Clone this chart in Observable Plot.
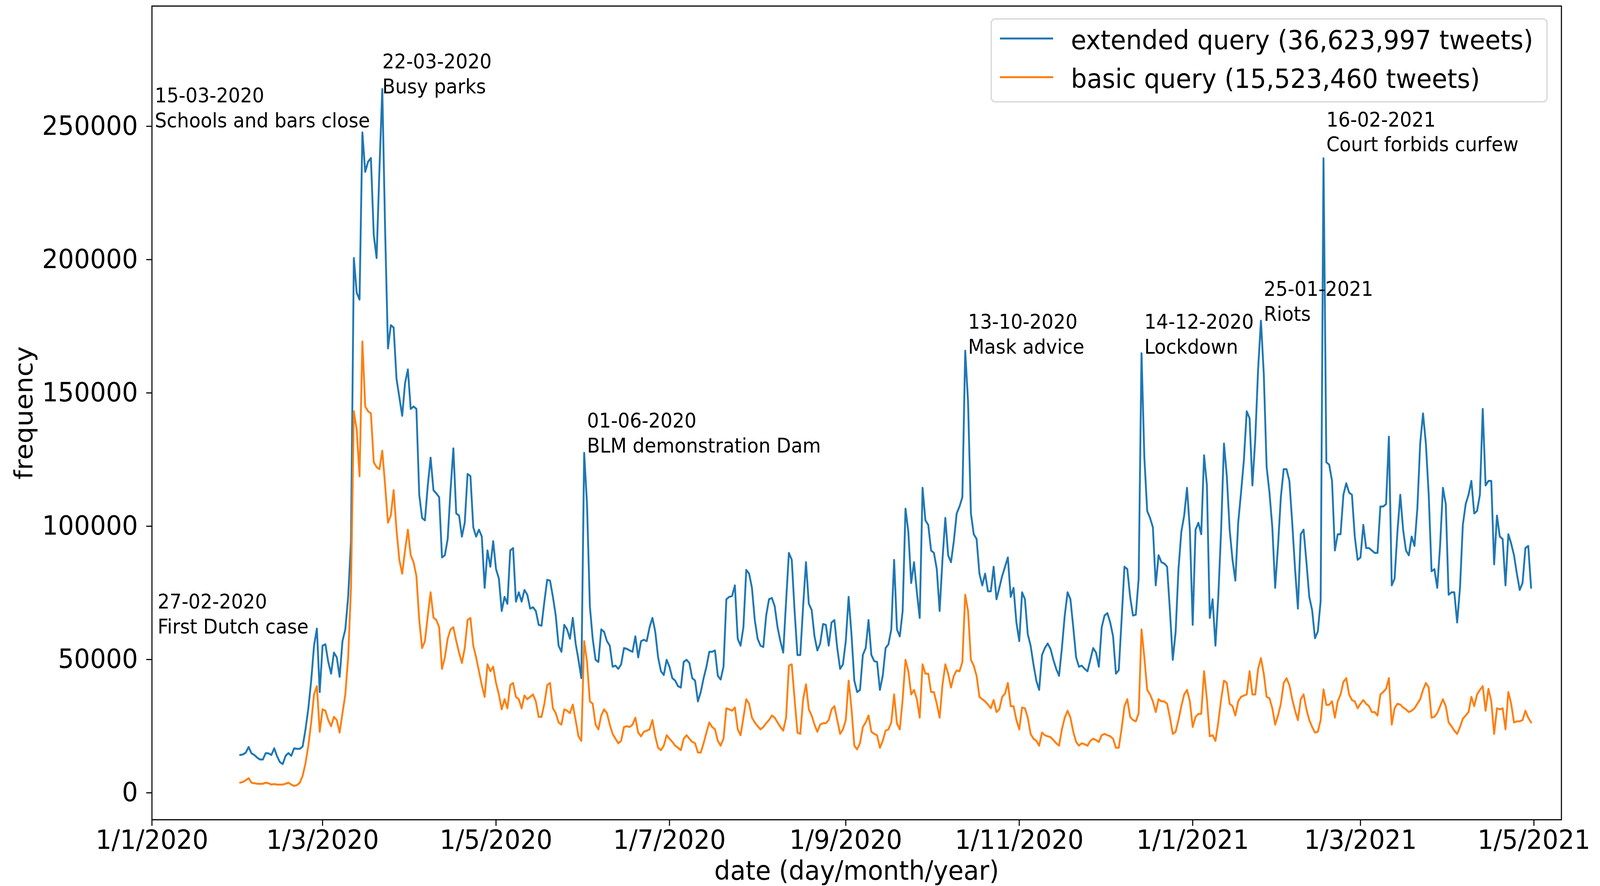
<!DOCTYPE html>
<html>
<head>
<meta charset="utf-8">
<script src="https://cdn.jsdelivr.net/npm/d3@7"></script>
<script src="https://cdn.jsdelivr.net/npm/@observablehq/plot@0.6"></script>
<style>
  html, body { margin: 0; padding: 0; background: white; overflow: hidden; }
  #wrap { position: relative; width: 4333px; height: 2267px; background: white; overflow: hidden; transform-origin: 0 0; }
  #wrap svg { display: block; }
</style>
</head>
<body>
<div id="wrap"></div>
<script>
// ---- data (daily tweet counts, first day 2020-02-01) ----
const startDate = "2020-02-01";

const extended = [
14200,14400,15100,17200,14800,14200,13200,12500,12500,14900,
14800,14200,16700,13700,11500,10800,13900,14900,13900,16700,
16500,16500,17400,23800,31700,42100,55200,61600,37800,55200,
55700,49100,44700,52600,50800,43500,56900,61300,73500,94400,
200600,187600,185000,247700,232900,236700,238100,209300,200600,233700,
264000,211000,166700,175400,174500,155300,148400,141400,153600,158800,
144000,144900,144000,111800,103100,102200,115300,125700,113500,112300,
110900,88300,89100,95200,113500,129200,104800,104000,96100,101300,
119600,118800,99600,96100,98700,96100,76900,90900,84800,94400,
83900,80400,68200,73500,70900,90900,91800,71700,75200,71700,
76100,74300,69100,69600,68200,63000,62700,71700,79900,79600,
73500,66500,55200,52900,63000,61300,57800,65600,56000,49900,
43000,127500,108300,70000,57800,49900,49100,61300,60400,56900,
55200,47300,47700,46500,48200,54300,54000,53400,52900,58700,
50800,56900,57400,56900,62100,65600,60400,50800,45600,44200,
49900,47300,43000,42100,40000,39500,49100,49900,48700,43000,
42100,34300,37800,43000,47300,52900,52900,53400,43900,42500,
47300,72600,73500,73800,77800,57800,55200,62100,83600,82200,
76900,64800,57800,55200,54700,66500,72600,73100,70000,62100,
56900,52600,71700,90000,87400,68200,51700,51700,70000,86500,
70900,68600,58700,53400,56000,63300,63000,55200,63900,64800,
54300,46500,48200,56900,73500,59500,42100,37800,38600,51700,
54300,64800,51700,49400,49100,38600,43900,54300,55700,61300,
87400,61300,58700,68200,106600,97900,78700,86500,75200,65600,
114400,102200,100500,90900,90000,83900,68200,87400,103100,89100,
86500,94400,104800,107400,110900,165800,146600,104800,97000,95200,
82200,77800,82200,75600,75600,84800,72600,76900,81300,84800,
88300,73500,76900,63900,56900,75200,72600,59500,55200,48200,
42100,38600,51700,54300,56000,54000,49900,46500,43900,54300,
66500,75200,72600,62100,50800,47300,47700,46500,45600,49900,
54300,52600,47300,62100,66500,67400,63900,58700,44700,46000,
65000,84800,83900,73500,66500,66800,80400,164900,125700,105700,
103100,99600,77800,89100,86500,86000,84800,68200,49900,60400,
83900,97900,104000,114400,98700,63000,98700,101300,97000,126600,
115300,65600,72600,55200,73500,98700,131000,118800,98700,87400,
79600,101300,112600,124800,143100,140500,115300,132700,158800,177100,
157100,122200,112600,99600,76900,92600,110900,121400,121400,117000,
101300,83900,69100,97000,98700,86500,73500,68500,58000,60500,
72000,238000,124000,123100,117000,90900,97000,97000,111800,116100,
112600,111800,96100,87400,88300,100500,91800,91800,90900,90000,
90000,107400,107400,108300,133600,77800,80400,97900,111800,98700,
90900,89100,96100,92600,106600,131000,142300,131000,111800,83100,
83900,76900,92600,114400,108300,74300,75200,75200,63900,76900,
100500,108300,111800,117000,104800,105700,111800,144000,115300,117000,
117000,85700,104000,96100,95200,77800,97000,93500,89100,82200,
76100,78700,91800,92600,76900
];

const basic = [
3800,4100,4700,5500,3800,3600,3400,3400,3400,3800,
3600,3100,3300,3100,3100,3100,3400,3800,3100,2600,
2900,3800,6400,11100,17700,26400,36900,40000,22900,31300,
30800,27300,25000,28500,27300,22600,29900,36900,50800,76900,
143100,136200,118700,169300,144900,143100,142300,124000,122200,121400,
128300,115300,101300,104000,113500,98700,87400,82200,90900,98700,
89100,86500,81300,64800,54300,56900,66500,75200,65700,64800,
62100,46500,50800,57800,61300,62100,57000,52600,48700,54300,
64800,65600,55200,50800,45600,40400,36000,48200,45600,47300,
41200,36900,31300,35100,31700,40400,41200,36000,35100,31700,
36500,35100,36000,36900,34300,28500,28500,33400,40400,41200,
31700,29900,26400,25600,31300,30800,29900,33100,27300,21200,
19500,56900,49100,34300,33400,25600,23800,29000,31300,29900,
25600,22100,20300,18600,19500,24700,25000,24700,25600,28200,
22600,21200,22900,23300,23800,27300,21200,16900,16000,17700,
21600,20300,19100,17700,16900,16000,20300,21600,20300,19100,
18600,15100,15100,18600,22600,26400,24700,23800,19500,17700,
20300,31700,31300,30800,32000,23800,21600,28200,35100,33400,
28200,26400,25000,23800,24700,26100,27300,29000,28200,26400,
24700,23300,28200,47700,48200,35100,22600,22100,35100,40700,
31300,29000,25600,22900,25600,26100,26100,27300,31300,32500,
27300,22100,23800,27300,42100,31700,17700,16300,18600,24700,
26400,29000,22900,22100,21600,16900,19500,23300,23800,26400,
36900,26000,23800,35100,49900,45600,36900,38600,35100,28200,
48200,44700,44700,37800,37800,33400,28200,40400,48200,44700,
39500,43900,45900,45600,49100,74300,68200,49900,47700,43900,
36000,35100,34300,33100,31700,34800,30300,31300,36000,37200,
41200,32500,32500,27300,23800,32000,31700,28200,22100,20300,
19500,17700,22600,21600,21200,20900,19800,18600,17700,23800,
28200,30800,28200,22900,19100,17700,18600,18200,17700,19500,
20300,19800,19100,21600,22100,21600,21200,20300,16900,16900,
24000,32500,35100,28500,27300,26800,29900,61300,50800,38600,
36900,34300,30300,35100,34300,34300,33400,28200,22100,22900,
27300,32500,36900,38600,34300,24700,28500,29600,29600,45600,
35100,21200,21600,19500,26400,35100,42100,41200,33400,32500,
29000,34300,36000,36500,36900,45600,36900,36900,46500,50500,
44700,36000,35500,31700,25600,29000,33400,41200,43000,40400,
35100,30800,27300,35100,36900,31300,27300,24700,22600,22900,
27300,38800,33000,33000,34300,28200,34300,36900,41600,43000,
36900,34800,34300,31700,33400,34800,33400,32500,30300,30300,
29000,36900,37800,39000,43000,25600,31700,33400,33100,32000,
31300,30300,30800,31700,33400,35100,38600,41200,39500,28200,
28500,29900,32500,35100,32500,26400,25000,23300,22100,24700,
27800,29000,30300,36000,32500,36900,38600,40000,30800,39000,
34300,22100,31700,31300,31700,23800,37800,33400,26400,26800,
26800,27300,30800,28200,26400
];

const seriesNames = ["extended query (36,623,997 tweets)", "basic query (15,523,460 tweets)"];
const seriesColors = ["#1f77b4", "#ff7f0e"];

const annotations = [
  {date: "2020-01-03", value: 59800,  label: "27-02-2020\nFirst Dutch case"},
  {date: "2020-01-02", value: 249600, label: "15-03-2020\nSchools and bars close"},
  {date: "2020-03-22", value: 262400, label: "22-03-2020\nBusy parks"},
  {date: "2020-06-02", value: 127600, label: "01-06-2020\nBLM demonstration Dam"},
  {date: "2020-10-14", value: 164700, label: "13-10-2020\nMask advice"},
  {date: "2020-12-15", value: 164700, label: "14-12-2020\nLockdown"},
  {date: "2021-01-26", value: 177000, label: "25-01-2021\nRiots"},
  {date: "2021-02-17", value: 240600, label: "16-02-2021\nCourt forbids curfew"}
];

const xTickDates = ["2020-01-01","2020-03-01","2020-05-01","2020-07-01","2020-09-01","2020-11-01","2021-01-01","2021-03-01","2021-05-01"];
const yTicks = [0, 50000, 100000, 150000, 200000, 250000];
const xDomain = ["2020-01-01", "2021-05-10T16:00Z"];
const yDomain = [-10100, 295100];

// ---- build tables ----
const start = new Date(startDate);
const extRows = extended.map((v, i) => ({date: d3.utcDay.offset(start, i), value: v}));
const basicRows = basic.map((v, i) => ({date: d3.utcDay.offset(start, i), value: v}));
const annRows = annotations.map(a => ({...a, date: new Date(a.date)}));
const fmtDate = d => `${d.getUTCDate()}/${d.getUTCMonth() + 1}/${d.getUTCFullYear()}`;

const font = "'DejaVu Sans', sans-serif";
const W = 4333, H = 2267;
const bigFont = 68, noteFont = 51;

const chart = Plot.plot({
  width: W,
  height: H,
  marginLeft: 411,
  marginRight: 105,
  marginTop: 15,
  marginBottom: 170,
  style: {fontFamily: font, fontSize: bigFont + "px", background: "white", color: "black", overflow: "visible"},
  x: {type: "utc", domain: xDomain.map(d => new Date(d))},
  y: {domain: yDomain},
  marks: [
    Plot.axisY({ticks: yTicks, tickFormat: d3.format("d"), tickSize: 15, tickPadding: 23,
                strokeWidth: 2.9, stroke: "black", fill: "black", fontSize: bigFont, label: null}),
    Plot.axisX({ticks: xTickDates.map(d => new Date(d)), tickFormat: fmtDate, tickSize: 16, tickPadding: 10,
                strokeWidth: 2.9, stroke: "black", fill: "black", fontSize: bigFont, label: null}),
    Plot.line(extRows, {x: "date", y: "value", stroke: seriesColors[0], strokeWidth: 5, strokeLinejoin: "round"}),
    Plot.line(basicRows, {x: "date", y: "value", stroke: seriesColors[1], strokeWidth: 5, strokeLinejoin: "round"}),
    Plot.text(annRows, {x: "date", y: "value", text: "label", textAnchor: "start", lineAnchor: "bottom",
                        fontSize: noteFont, lineHeight: 1.25, fill: "black"}),
    Plot.text(["frequency"], {text: d => d, frameAnchor: "left", dx: -346, rotate: -90,
                              textAnchor: "middle", lineAnchor: "middle", fontSize: bigFont, fill: "black"}),
    Plot.text(["date (day/month/year)"], {text: d => d, frameAnchor: "bottom", dy: 153,
                              textAnchor: "middle", lineAnchor: "bottom", fontSize: bigFont, fill: "black"}),
    Plot.frame({stroke: "black", strokeWidth: 2.9})
  ]
});

const wrap = document.getElementById("wrap");
wrap.appendChild(chart);

// ---- legend (inside the axes, upper right) ----
const legend = document.createElement("div");
legend.style.cssText = "position:absolute;left:2683px;top:47px;width:1508px;height:215px;box-sizing:border-box;" +
  "border:3px solid #d4d4d4;border-radius:12px;background:rgba(255,255,255,0.8);font-family:" + font + ";";
const rowCenters = [48, 147];
seriesNames.forEach((name, i) => {
  const row = document.createElement("div");
  row.style.cssText = `position:absolute;left:22px;top:${rowCenters[i] - 50}px;height:100px;display:flex;align-items:center;white-space:nowrap;`;
  const sw = document.createElement("div");
  sw.style.cssText = `width:144px;height:5px;background:${seriesColors[i]};`;
  const tx = document.createElement("div");
  tx.textContent = name;
  tx.style.cssText = `margin-left:48px;font-size:${bigFont}px;line-height:1;color:black;position:relative;top:5px;`;
  row.appendChild(sw);
  row.appendChild(tx);
  legend.appendChild(row);
});
wrap.appendChild(legend);

// ---- fit the 4333x2267 figure into the actual browser viewport ----
function fit() {
  const sx = (window.innerWidth || W) / W;
  const sy = (window.innerHeight || H) / H;
  wrap.style.transform = `scale(${sx}, ${sy})`;
}
fit();
window.addEventListener("resize", fit);
</script>
</body>
</html>
